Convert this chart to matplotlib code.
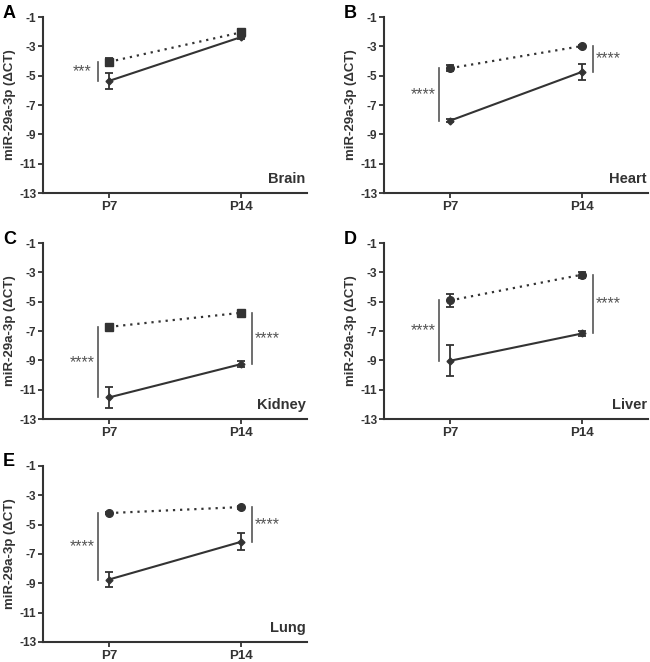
import numpy as np
import matplotlib.pyplot as plt

plt.rcParams['font.family'] = ['Liberation Sans', 'DejaVu Sans']

categories = ['P7', 'P14']
organs = ['Brain', 'Heart', 'Kidney', 'Liver', 'Lung']
letters = ['A', 'B', 'C', 'D', 'E']

# dotted series (upper) and solid series (lower), mean and error
dot_mean = [[-4.06, -2.05], [-4.49, -2.98], [-6.72, -5.76], [-4.92, -3.16], [-4.21, -3.80]]
dot_err = [[0.25, 0.25], [0.20, 0.10], [0.15, 0.10], [0.43, 0.20], [0.05, 0.10]]
sol_mean = [[-5.36, -2.37], [-8.07, -4.74], [-11.53, -9.26], [-9.03, -7.17], [-8.74, -6.17]]
sol_err = [[0.55, 0.12], [0.12, 0.55], [0.70, 0.20], [1.07, 0.15], [0.50, 0.57]]
dot_marker = ['s', 'o', 's', 'o', 'o']

# significance labels at P7 / P14
sig = [['***', ''], ['****', '****'], ['****', '****'], ['****', '****'], ['****', '****']]

yticks = [-1, -3, -5, -7, -9, -11, -13]

W, H = 650, 662
fig = plt.figure(figsize=(6.5, 6.62), dpi=100)
col_x = [(43, 264), (384, 264)]
row_y = [(17, 193), (243, 419), (466, 642)]

dark = '#333333'
x = np.array([1, 2])

for i, organ in enumerate(organs):
    r, c = divmod(i, 2)
    x0, w = col_x[c]
    yt, yb = row_y[r]
    ax = fig.add_axes([x0 / W, 1 - yb / H, w / W, (yb - yt) / H])

    ax.errorbar(x, dot_mean[i], yerr=dot_err[i], color=dark, lw=1.6,
                linestyle=(0, (1, 2.2)), marker=dot_marker[i], markersize=5.5,
                capsize=3, elinewidth=1.3, capthick=1.3)
    ax.errorbar(x, sol_mean[i], yerr=sol_err[i], color=dark, lw=1.5,
                linestyle='-', marker='D', markersize=3.5,
                capsize=3, elinewidth=1.3, capthick=1.3)

    for j in range(2):
        if not sig[i][j]:
            continue
        side = -1 if j == 0 else 1
        bx = x[j] + side * 0.085
        ax.plot([bx, bx], [dot_mean[i][j], sol_mean[i][j]], color='#555555', lw=1.2)
        ym = (dot_mean[i][j] + sol_mean[i][j]) / 2
        ax.text(x[j] + side * 0.2, ym, sig[i][j], ha='center', va='center',
                fontsize=11.5, color='#555555')

    ax.set_xlim(0.5, 2.5)
    ax.set_ylim(-13, -1)
    ax.set_xticks(x)
    ax.set_xticklabels(categories, fontsize=9.5, fontweight='bold', color=dark)
    ax.set_yticks(yticks)
    ax.set_yticklabels([str(t) for t in yticks], fontsize=8.5, fontweight='bold', color=dark)
    ax.tick_params(axis='y', length=3.6, width=1.3, color=dark, pad=1.2)
    ax.tick_params(axis='x', length=3.6, width=1.3, color=dark, pad=2.5)
    for s in ['top', 'right']:
        ax.spines[s].set_visible(False)
    for s in ['left', 'bottom']:
        ax.spines[s].set_linewidth(1.5)
        ax.spines[s].set_color(dark)
    ax.set_ylabel('miR-29a-3p (\u0394CT)', fontsize=9.5, fontweight='bold', color=dark)
    ax.yaxis.set_label_coords(-0.102, 0.5)
    ax.text(0.995, 0.04, organ, transform=ax.transAxes, ha='right', va='bottom',
            fontsize=10.5, fontweight='bold', color=dark)
    fig.text((x0 - 40) / W, 1 - (yt - 4) / H, letters[i], fontsize=13,
             fontweight='bold', ha='left', va='center', color='black')

fig.savefig('out.png', dpi=100)
